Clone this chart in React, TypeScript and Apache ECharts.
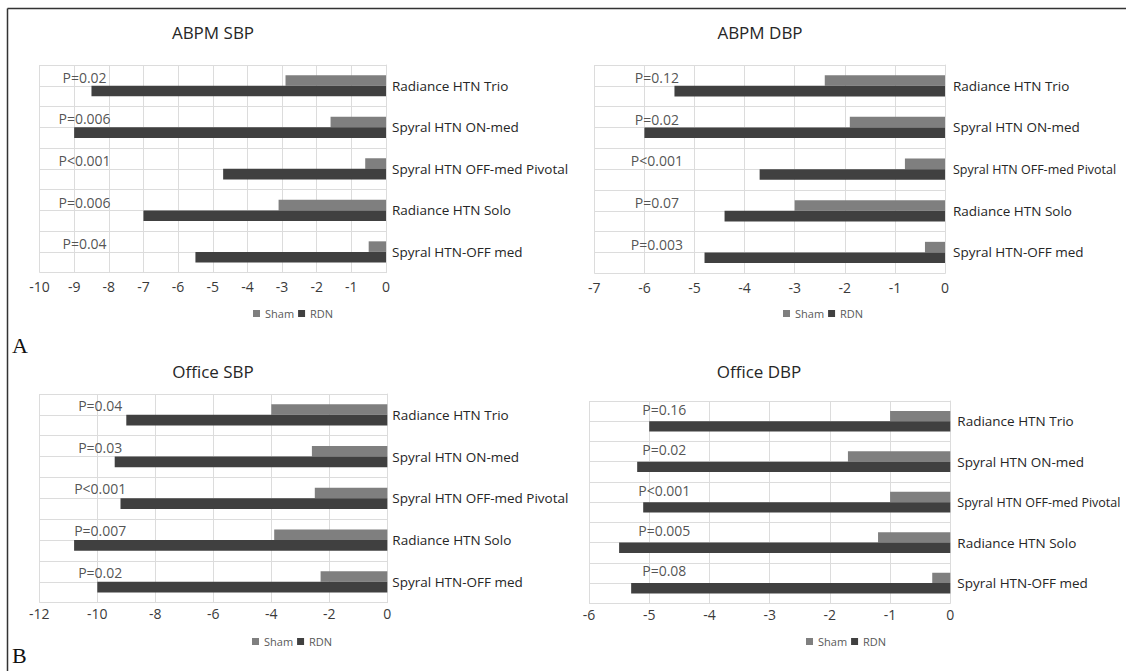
import React, { useEffect, useRef } from 'react';
import * as echarts from 'echarts';

// ---------- data ----------
const CATEGORIES = [
  'Radiance HTN Trio',
  'Spyral HTN ON-med',
  'Spyral HTN OFF-med Pivotal',
  'Radiance HTN Solo',
  'Spyral HTN-OFF med',
];
const SERIES_NAMES = ['Sham', 'RDN'];

const ABPM_SBP_SHAM = [-2.9, -1.6, -0.6, -3.1, -0.5];
const ABPM_SBP_RDN = [-8.5, -9.0, -4.7, -7.0, -5.5];
const ABPM_SBP_P = ['P=0.02', 'P=0.006', 'P<0.001', 'P=0.006', 'P=0.04'];

const ABPM_DBP_SHAM = [-2.4, -1.9, -0.8, -3.0, -0.4];
const ABPM_DBP_RDN = [-5.4, -6.0, -3.7, -4.4, -4.8];
const ABPM_DBP_P = ['P=0.12', 'P=0.02', 'P<0.001', 'P=0.07', 'P=0.003'];

const OFFICE_SBP_SHAM = [-4.0, -2.6, -2.5, -3.9, -2.3];
const OFFICE_SBP_RDN = [-9.0, -9.4, -9.2, -10.8, -10.0];
const OFFICE_SBP_P = ['P=0.04', 'P=0.03', 'P<0.001', 'P=0.007', 'P=0.02'];

const OFFICE_DBP_SHAM = [-1.0, -1.7, -1.0, -1.2, -0.3];
const OFFICE_DBP_RDN = [-5.0, -5.2, -5.1, -5.5, -5.3];
const OFFICE_DBP_P = ['P=0.16', 'P=0.02', 'P<0.001', 'P=0.005', 'P=0.08'];

const TITLES = ['ABPM SBP', 'ABPM DBP', 'Office SBP', 'Office DBP'];
const AXIS_MIN = [-10, -7, -12, -6];
const AXIS_INTERVAL = [1, 1, 2, 1];
const PANEL_LETTERS = ['A', 'B'];

const PANELS = [
  { sham: ABPM_SBP_SHAM, rdn: ABPM_SBP_RDN, p: ABPM_SBP_P },
  { sham: ABPM_DBP_SHAM, rdn: ABPM_DBP_RDN, p: ABPM_DBP_P },
  { sham: OFFICE_SBP_SHAM, rdn: OFFICE_SBP_RDN, p: OFFICE_SBP_P },
  { sham: OFFICE_DBP_SHAM, rdn: OFFICE_DBP_RDN, p: OFFICE_DBP_P },
];

// ---------- layout ----------
const LAYOUT = [
  { grid: { left: 39.5, top: 65, width: 346.5, height: 207.7 }, titleX: 213, titleY: 32, legendX: 248, legendY: 303, tickMargin: 7, catMargin: 6, pX: -8.7, pDy: 2, condense: false },
  { grid: { left: 594.3, top: 65, width: 350.7, height: 208.3 }, titleX: 760, titleY: 32, legendX: 778, legendY: 303, tickMargin: 7, catMargin: 8, pX: -5.75, pDy: 2, condense: true },
  { grid: { left: 39.3, top: 394, width: 348, height: 208.7 }, titleX: 213, titleY: 371, legendX: 247, legendY: 631, tickMargin: 4, catMargin: 5, pX: -9.9, pDy: 1, condense: false },
  { grid: { left: 589, top: 401, width: 361.3, height: 202.3 }, titleX: 759, titleY: 371, legendX: 801, legendY: 631, tickMargin: 4, catMargin: 7, pX: -4.75, pDy: -2, condense: true },
];
const LETTER_Y = [345, 655];

const FONT = '"Open Sans", "Noto Sans", sans-serif';
const SHAM_COLOR = '#7f7f7f';
const RDN_COLOR = '#404040';
const GRID_COLOR = '#dcdcdc';

const HALF_SLOTS = CATEGORIES.flatMap((c) => [c + ' Sham', c + ' RDN']);

function buildOption() {
  const grid: any[] = [];
  const xAxis: any[] = [];
  const yAxis: any[] = [];
  const series: any[] = [];
  const legend: any[] = [];
  const graphic: any[] = [
    { type: 'line', shape: { x1: 7.5, y1: 8.5, x2: 1126, y2: 8.5 }, style: { stroke: '#333', lineWidth: 1.5 } },
    { type: 'line', shape: { x1: 7.5, y1: 8.5, x2: 7.5, y2: 671 }, style: { stroke: '#333', lineWidth: 1.5 } },
  ];

  PANELS.forEach((panel, i) => {
    const L = LAYOUT[i];
    grid.push({ ...L.grid, containLabel: false, outerBoundsMode: 'none' });
    xAxis.push({
      gridIndex: i,
      type: 'value',
      min: AXIS_MIN[i],
      max: 0,
      interval: AXIS_INTERVAL[i],
      axisLine: { show: false },
      axisTick: { show: false },
      splitLine: { show: true, lineStyle: { color: GRID_COLOR, width: 1 } },
      axisLabel: { color: '#3a3a3a', fontSize: 14, fontFamily: FONT, margin: L.tickMargin },
    });
    yAxis.push({
      gridIndex: i,
      type: 'category',
      data: CATEGORIES,
      inverse: true,
      position: 'right',
      axisLine: { show: true, lineStyle: { color: GRID_COLOR } },
      axisTick: { show: false },
      splitLine: { show: false },
      axisLabel: {
        color: '#262626',
        fontSize: 13.5,
        fontFamily: FONT,
        margin: L.catMargin,
        formatter: (v: string) => (L.condense && v.length > 22 ? `{c|${v}}` : v),
        rich: { c: { fontSize: 12.5, fontFamily: FONT, color: '#262626' } },
      },
    });
    yAxis.push({
      gridIndex: i,
      type: 'category',
      data: HALF_SLOTS,
      inverse: true,
      position: 'left',
      axisLine: { show: false },
      axisTick: { show: false },
      axisLabel: { show: false },
      splitLine: { show: true, lineStyle: { color: GRID_COLOR, width: 1 } },
    });
    series.push({
      type: 'bar',
      name: 'Sham',
      xAxisIndex: i,
      yAxisIndex: 2 * i,
      data: panel.sham,
      itemStyle: { color: SHAM_COLOR },
      barGap: '0%',
      barCategoryGap: '49%',
      silent: true,
    });
    series.push({
      type: 'bar',
      name: 'RDN',
      xAxisIndex: i,
      yAxisIndex: 2 * i,
      data: panel.rdn,
      itemStyle: { color: RDN_COLOR },
      barGap: '0%',
      barCategoryGap: '49%',
      silent: true,
    });
    series.push({
      type: 'scatter',
      name: 'p' + i,
      xAxisIndex: i,
      yAxisIndex: 2 * i + 1,
      symbolSize: 1,
      itemStyle: { color: 'transparent' },
      silent: true,
      data: panel.p.map((t, k) => ({ name: t, value: [L.pX, 2 * k] })),
      label: {
        show: true,
        position: 'inside',
        formatter: '{b}',
        offset: [0, L.pDy],
        color: '#262626',
        fontSize: 14,
        fontFamily: FONT,
      },
    });
    legend.push({
      left: L.legendX,
      top: L.legendY,
      data: SERIES_NAMES,
      icon: 'rect',
      itemWidth: 7,
      itemHeight: 7,
      itemGap: 4,
      selectedMode: false,
      textStyle: { fontSize: 11, color: '#595959', fontFamily: FONT },
    });
    graphic.push({
      type: 'text',
      style: {
        text: TITLES[i],
        x: L.titleX,
        y: L.titleY,
        font: `17px ${FONT}`,
        fill: '#262626',
        align: 'center',
        verticalAlign: 'middle',
        textAlign: 'center',
        textVerticalAlign: 'middle',
      },
    });
  });

  PANEL_LETTERS.forEach((letter, j) => {
    graphic.push({
      type: 'text',
      style: {
        text: letter,
        x: 12,
        y: LETTER_Y[j],
        font: '22px "Liberation Serif", "DejaVu Serif", serif',
        fill: '#111',
        align: 'left',
        verticalAlign: 'middle',
        textAlign: 'left',
        textVerticalAlign: 'middle',
      },
    });
  });

  return {
    animation: false,
    backgroundColor: '#ffffff',
    textStyle: { fontFamily: FONT },
    grid,
    xAxis,
    yAxis,
    series,
    legend,
    graphic,
  };
}

export default function App() {
  const ref = useRef<HTMLDivElement>(null);
  useEffect(() => {
    if (!ref.current) return;
    const chart = echarts.init(ref.current, null, { renderer: 'svg' });
    chart.setOption(buildOption() as any);
    return () => chart.dispose();
  }, []);
  return (
    <div
      ref={ref}
      style={{ position: 'absolute', left: 0, top: 0, width: 1126, height: 671 }}
    />
  );
}
